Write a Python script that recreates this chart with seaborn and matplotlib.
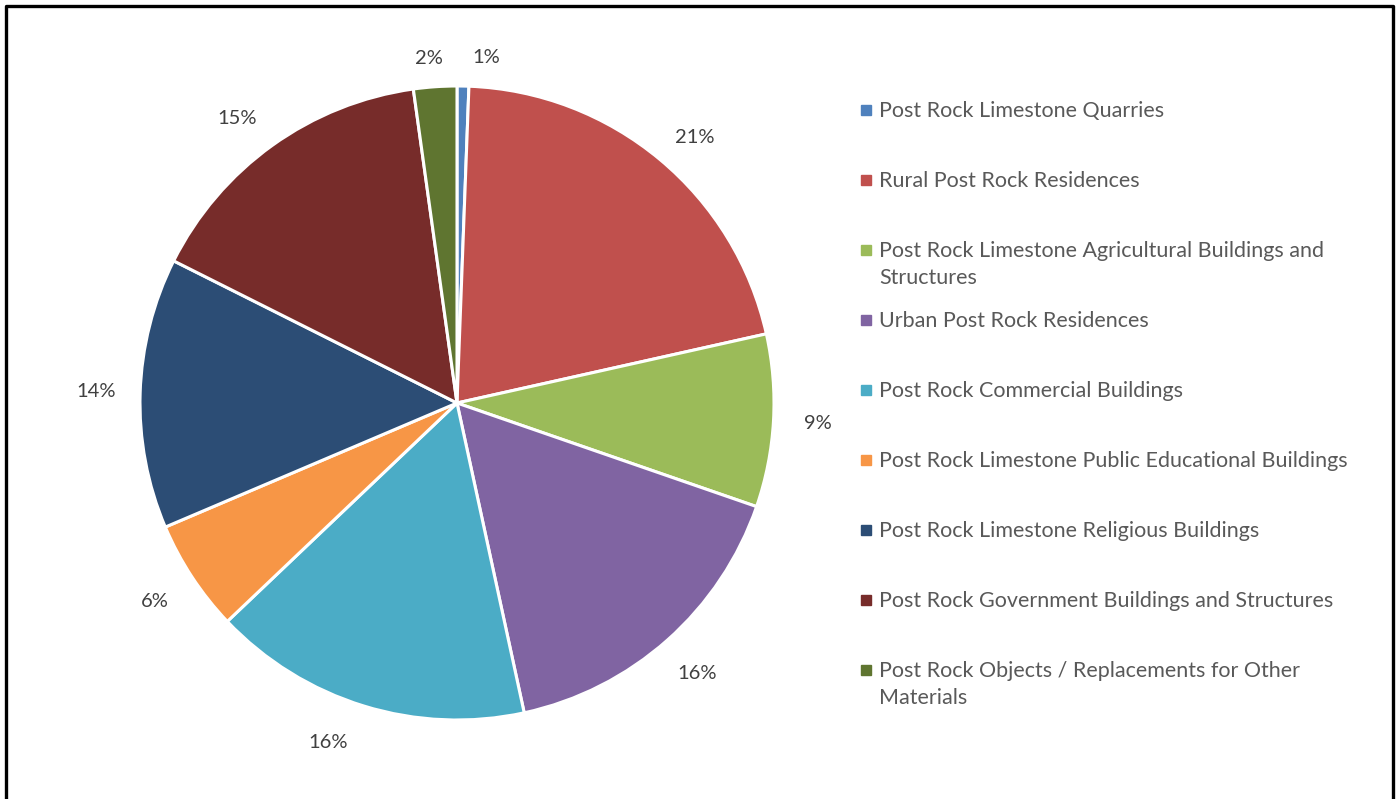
import numpy as np
import matplotlib
matplotlib.use("Agg")
import matplotlib.pyplot as plt
from matplotlib.lines import Line2D
import seaborn as sns

# Data (share of each category, percent)
categories = [
    "Post Rock Limestone Quarries",
    "Rural Post Rock Residences",
    "Post Rock Limestone Agricultural Buildings and\nStructures",
    "Urban Post Rock Residences",
    "Post Rock Commercial Buildings",
    "Post Rock Limestone Public Educational Buildings",
    "Post Rock Limestone Religious Buildings",
    "Post Rock Government Buildings and Structures",
    "Post Rock Objects / Replacements for Other\nMaterials",
]
shares = [0.6, 20.9, 8.8, 16.3, 16.3, 5.7, 13.8, 15.4, 2.2]
colors = ["#4F81BD", "#C0504D", "#9BBB59", "#8064A2", "#4BACC6",
          "#F79646", "#2C4D75", "#772C2A", "#5F7530"]

sns.set_theme(style="white")
plt.rcParams["font.family"] = ["Lato", "DejaVu Sans"]
palette = sns.color_palette(colors)

W, H = 1399, 799
fig = plt.figure(figsize=(W / 100, H / 100), dpi=100)
fig.patch.set_facecolor("white")

# pie axes: center (457, 403) px, radius 317 px
cx, cy, r = 457, 403, 317
ax = fig.add_axes([(cx - r) / W, (H - cy - r) / H, 2 * r / W, 2 * r / H])
wedges, texts, autotexts = ax.pie(
    shares, colors=palette, startangle=90, counterclock=False,
    autopct=lambda p: f"{p:.0f}%", pctdistance=1.14, radius=1,
    wedgeprops=dict(edgecolor="white", linewidth=2.2),
    textprops=dict(fontsize=14.5, color="#404040"),
)
ax.set_xlim(-1, 1)
ax.set_ylim(-1, 1)
ax.set_aspect("equal")
ax.axis("off")
for t in autotexts:
    t.set_clip_on(False)
# spread the two tiny top labels apart, and shift a few like the original
x0, y0 = autotexts[0].get_position()
autotexts[0].set_position((x0 + 0.07, y0 - 0.05))
x8, y8 = autotexts[-1].get_position()
autotexts[-1].set_position((x8 - 0.01, y8 - 0.05))
x4, y4 = autotexts[4].get_position()
autotexts[4].set_position((x4 - 0.07, y4 + 0.02))
x1, y1 = autotexts[1].get_position()
autotexts[1].set_position((x1 + 0.02, y1 - 0.04))
x7, y7 = autotexts[7].get_position()
autotexts[7].set_position((x7 - 0.03, y7 - 0.03))

# legend drawn as a column of squares and labels
lx, ly0, step = 866, 110, 70
for i, (lab, col) in enumerate(zip(categories, palette)):
    y = ly0 + step * i
    fig.add_artist(Line2D([lx / W], [1 - y / H], marker="s", markersize=6.5,
                          color=col, linestyle="none", transform=fig.transFigure))
    fig.text((lx + 13) / W, 1 - (y - 9) / H, lab, fontsize=15.5, color="#595959",
             ha="left", va="top", linespacing=1.45)

# chart frame (top, left, right)
lw = 2.4
fig.add_artist(Line2D([6 / W, 6 / W, 1393 / W, 1393 / W], [0, 1 - 6 / H, 1 - 6 / H, 0],
                      color="black", linewidth=lw, transform=fig.transFigure))

fig.savefig("out.png", dpi=100, facecolor="white")
